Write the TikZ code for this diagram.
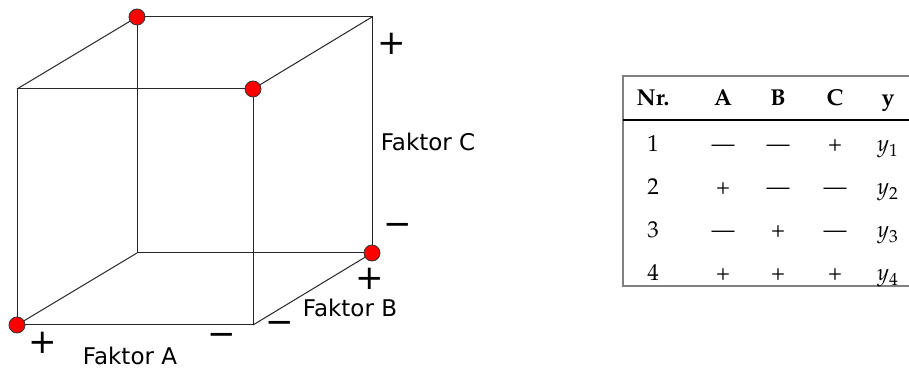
\documentclass[tikz,border=0pt]{standalone}
\usepackage[T1]{fontenc}
\usepackage{mathpazo}
\usepackage{fontspec}
\newfontfamily\labelfont{DejaVu Sans}
\newcommand\tablefont{\fontencoding{T1}\fontfamily{pplx}\selectfont}
\usetikzlibrary{positioning}

\begin{document}
\begin{tikzpicture}[
    x=0.5pt, y=-0.5pt,
    edge/.style={draw=black!85, line width=0.5pt},
    corner/.style={circle, draw=black!80, fill=red, line width=0.4pt, minimum size=8pt, inner sep=0pt},
    sign/.style={font=\labelfont\fontsize{17}{17}\selectfont, inner sep=0pt},
    factor/.style={font=\labelfont\fontsize{11.5}{13}\selectfont, inner sep=0pt},
    cell/.style={font=\tablefont\fontsize{11.5}{13}\selectfont, inner sep=0pt, anchor=base},
    head/.style={cell, font=\tablefont\fontsize{11.5}{13}\selectfont\bfseries}
]
    \useasboundingbox (0,0) rectangle (909,368);

    % Cube corners: front face, then back face
    \coordinate (ftl) at (17,89);
    \coordinate (ftr) at (253,89);
    \coordinate (fbl) at (17,325);
    \coordinate (fbr) at (253,325);
    \coordinate (btl) at (137,17);
    \coordinate (btr) at (372,17);
    \coordinate (bbl) at (137,253);
    \coordinate (bbr) at (372,253);

    % Edges
    \draw[edge] (ftl) -- (ftr) -- (fbr) -- (fbl) -- cycle;
    \draw[edge] (btl) -- (btr) -- (bbr) -- (bbl) -- cycle;
    \draw[edge] (ftl) -- (btl); \draw[edge] (ftr) -- (btr);
    \draw[edge] (fbl) -- (bbl); \draw[edge] (fbr) -- (bbr);

    % Design points
    \node[corner] (p1) at (btl) {};
    \node[corner] (p2) at (ftr) {};
    \node[corner] (p3) at (bbr) {};
    \node[corner] (p4) at (fbl) {};

    % Factor levels
    \node[sign] (cplus) at (392,44) {+};
    \node[sign] (cminus) at (398,229) {−};
    \node[sign] (bplus) at (370,279) {+};
    \node[sign] (bminus) at (280,327) {−};
    \node[sign] (aplus) at (43,343) {+};
    \node[sign] (aminus) at (222,339) {−};

    \node[factor] (fc) at (428,142) {Faktor C};
    \node[factor] (fb) at (350,308) {Faktor B};
    \node[factor] (fa) at (130,356) {Faktor A};

    % Table
    \draw[gray, line width=0.6pt] (909,76) -| (623,286) -- (909,286);
    \draw[line width=0.6pt] (623,120) -- (909,120);

    \node[head] (hnr) at (653,106) {Nr.};
    \node[head] (ha) at (723,106) {A};
    \node[head] (hb) at (778,106) {B};
    \node[head] (hc) at (835,106) {C};
    \node[head] (hy) at (888,106) {y};

    \foreach \nr/\a/\b/\c [count=\i] in {1/---/---/+, 2/+/---/---, 3/---/+/---, 4/+/+/+}{
        \pgfmathsetmacro\yy{109+43*\i}
        \node[cell] (nr\i) at (653,\yy) {\nr};
        \node[cell] (a\i) at (723,\yy) {\a};
        \node[cell] (b\i) at (778,\yy) {\b};
        \node[cell] (c\i) at (835,\yy) {\c};
        \node[cell] (y\i) at (888,\yy) {$y_{\i}$};
    }
\end{tikzpicture}
\end{document}
